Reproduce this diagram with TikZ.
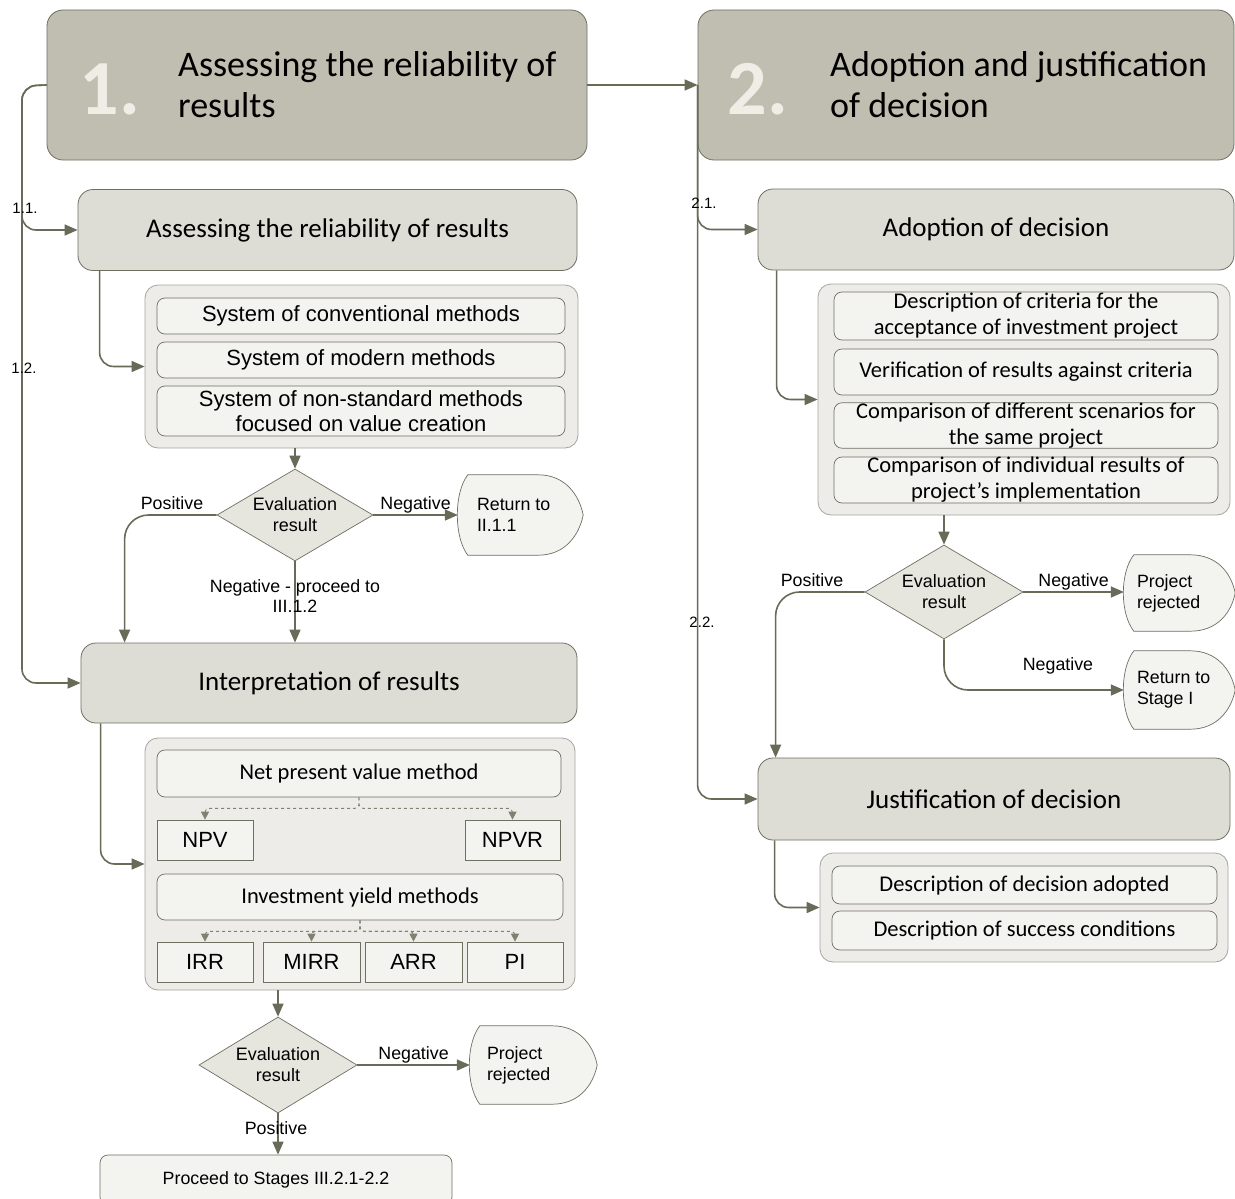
\documentclass[tikz,border=0pt]{standalone}
\usepackage{fontspec}
\setmainfont{Carlito}
\newfontfamily\arialf{Liberation Sans}
\usetikzlibrary{arrows.meta,shapes.geometric,calc,backgrounds}
\definecolor{lnc}{RGB}{104,107,88}
\definecolor{hdrfill}{RGB}{192,190,176}
\definecolor{subfill}{RGB}{222,221,213}
\definecolor{contfill}{RGB}{237,236,232}
\definecolor{boxfill}{RGB}{243,243,240}
\definecolor{bordc}{RGB}{110,112,98}
\definecolor{contbord}{RGB}{165,165,155}
\definecolor{numc}{RGB}{238,238,230}
\definecolor{diafill}{RGB}{230,229,222}
\newcommand\termshape[1]{%
  \draw[draw=bordc, fill=boxfill, line width=0.7pt]
    ($(#1.north west)+(10,0)$) -- ($(#1.north east)+(-45,0)$)
    .. controls ($(#1.north east)+(-18,0)$) and ($(#1.east)+(-4,-20)$) .. (#1.east)
    .. controls ($(#1.east)+(-4,20)$) and ($(#1.south east)+(-18,0)$) .. ($(#1.south east)+(-45,0)$)
    -- ($(#1.south west)+(10,0)$)
    .. controls ($(#1.south west)+(-4,-18)$) and ($(#1.north west)+(-4,18)$) .. ($(#1.north west)+(10,0)$) -- cycle;}
\begin{document}
\begin{tikzpicture}[x=1pt,y=-1pt,
 hdr/.style={draw=bordc, fill=hdrfill, rounded corners=16pt, line width=0.8pt, inner sep=0pt},
 sub/.style={draw=bordc, fill=subfill, rounded corners=15pt, line width=0.8pt, inner sep=0pt, font=\fontsize{27}{31}\selectfont},
 cont/.style={draw=contbord, fill=contfill, rounded corners=13pt, line width=0.8pt, inner sep=0pt},
 ibox/.style={draw=bordc, fill=boxfill, rounded corners=8pt, line width=0.7pt, inner sep=0pt, align=center},
 cal/.style={font=\fontsize{22.5}{26}\selectfont},
 ari/.style={font=\arialf\fontsize{22}{25}\selectfont},
 sbox/.style={draw=bordc, fill=boxfill, line width=0.7pt, inner sep=0pt, font=\arialf\fontsize{22}{26}\selectfont},
 dia/.style={diamond, shape aspect=1.68, draw=bordc, fill=diafill, line width=0.7pt, inner sep=0pt, align=center, font=\arialf\fontsize{18}{21}\selectfont},
 conn/.style={draw=lnc, line width=1.6pt, rounded corners=14pt, -{Triangle[length=13pt,width=11pt]}},
 dconn/.style={draw=lnc!85, line width=0.8pt, dashed, rounded corners=4pt, -{Triangle[length=8pt,width=8pt]}},
 lbl/.style={font=\arialf\fontsize{17.8}{21}\selectfont, inner sep=1pt, align=center},
 numl/.style={font=\arialf\fontsize{15}{17}\selectfont, inner sep=0pt},
 term/.style={inner sep=0pt, draw=none}
]
\useasboundingbox (0,0) rectangle (1235,1199);

% ---------- headers ----------
\node[hdr, minimum width=540pt, minimum height=150pt] (h1) at (317,85) {};
\node[font=\fontsize{78}{78}\selectfont\bfseries, text=numc, inner sep=0pt] (num1) at (110,89) {1.};
\node[font=\fontsize{36}{41}\selectfont, align=left, anchor=west, inner sep=0pt] (ttl1) at (178,85) {Assessing the reliability of\\results};

\node[hdr, minimum width=536pt, minimum height=150pt] (h2) at (966,85) {};
\node[font=\fontsize{78}{78}\selectfont\bfseries, text=numc, inner sep=0pt] (num2) at (758,89) {2.};
\node[font=\fontsize{36}{41}\selectfont, align=left, anchor=west, inner sep=0pt] (ttl2) at (830,85) {Adoption and justification\\of decision};

% ---------- left column ----------
\node[sub, minimum width=499pt, minimum height=81pt] (b11) at (327.5,230) {Assessing the reliability of results};

\node[cont, minimum width=433pt, minimum height=163pt] (ca) at (361.5,366.5) {};
\node[ibox, ari, minimum width=408pt, minimum height=36pt] (a1) at (361,316) {System of conventional methods};
\node[ibox, ari, minimum width=408pt, minimum height=36pt] (a2) at (361,360) {System of modern methods};
\node[ibox, ari, minimum width=408pt, minimum height=50pt] (a3) at (361,411) {System of non-standard methods\\focused on value creation};

\node[dia, minimum width=156pt, minimum height=92pt] (d1) at (295,515) {Evaluation\\result};
\node[term, minimum width=125pt, minimum height=80pt] (r1) at (520.5,515) {};
\node[lbl, align=left, anchor=west] (r1t) at ($(r1.west)+(18,0)$) {Return to\\II.1.1};

\node[sub, minimum width=496pt, minimum height=80pt] (ip) at (329,683) {Interpretation of results};

\node[cont, minimum width=430pt, minimum height=252pt] (cb) at (360,864) {};
\node[ibox, cal, minimum width=404pt, minimum height=47pt] (npvm) at (359,773.5) {Net present value method};
\node[sbox, minimum width=96pt, minimum height=40pt] (npv) at (205,840) {NPV};
\node[sbox, minimum width=95pt, minimum height=40pt] (npvr) at (512.5,840) {NPVR};
\node[ibox, cal, minimum width=406pt, minimum height=46pt] (iym) at (360,897) {Investment yield methods};
\node[sbox, minimum width=96pt, minimum height=40pt] (irr) at (205,962) {IRR};
\node[sbox, minimum width=97pt, minimum height=40pt] (mirr) at (311.5,962) {MIRR};
\node[sbox, minimum width=97pt, minimum height=40pt] (arr) at (413.5,962) {ARR};
\node[sbox, minimum width=96pt, minimum height=40pt] (pi) at (515,962) {PI};

\node[dia, minimum width=158pt, minimum height=96pt] (d3) at (278,1065) {Evaluation\\result};
\node[term, minimum width=127pt, minimum height=78pt] (rj1) at (533.5,1065) {};
\node[lbl, align=left, anchor=west] (rj1t) at ($(rj1.west)+(16,0)$) {Project\\rejected};

\node[ibox, minimum width=352pt, minimum height=50pt, font=\arialf\fontsize{17.8}{20}\selectfont] (pr) at (276,1180) {Proceed to Stages III.2.1-2.2};

% ---------- right column ----------
\node[sub, minimum width=476pt, minimum height=81pt] (b21) at (996,229.5) {Adoption of decision};

\node[cont, minimum width=412pt, minimum height=231pt] (cc) at (1024,399.5) {};
\node[ibox, minimum width=384pt, minimum height=48pt, font=\fontsize{22.5}{26}\selectfont] (c1) at (1026,316) {Description of criteria for the\\acceptance of investment project};
\node[ibox, cal, minimum width=384pt, minimum height=46pt] (c2) at (1026,372) {Verification of results against criteria};
\node[ibox, minimum width=384pt, minimum height=45pt, font=\fontsize{22.5}{26}\selectfont] (c3) at (1026,425.5) {Comparison of different scenarios for\\the same project};
\node[ibox, minimum width=384pt, minimum height=46pt, font=\fontsize{22.5}{26}\selectfont] (c4) at (1026,480) {Comparison of individual results of\\project’s implementation};

\node[dia, minimum width=158pt, minimum height=94pt] (d2) at (944,592) {Evaluation\\result};
\node[term, minimum width=111pt, minimum height=76pt] (rj2) at (1179.5,593) {};
\node[lbl, align=left, anchor=west] (rj2t) at ($(rj2.west)+(12,0)$) {Project\\rejected};
\node[term, minimum width=111pt, minimum height=78pt] (r2) at (1179.5,690) {};
\node[lbl, align=left, anchor=west] (r2t) at ($(r2.west)+(12,0)$) {Return to\\Stage I};

\node[sub, minimum width=472pt, minimum height=82pt] (js) at (994,799) {Justification of decision};

\node[cont, minimum width=408pt, minimum height=109pt] (cd) at (1024,907.5) {};
\node[ibox, cal, minimum width=385pt, minimum height=38pt] (e1) at (1024.5,885) {Description of decision adopted};
\node[ibox, cal, minimum width=385pt, minimum height=39pt] (e2) at (1024.5,930.5) {Description of success conditions};

% white page and terminal shapes
\begin{pgfonlayer}{background}
\fill[white] (0,0) rectangle (1235,1199);
\termshape{r1}
\termshape{rj1}
\termshape{rj2}
\termshape{r2}
\end{pgfonlayer}

% ---------- connectors ----------
\draw[conn] (h1.east) -- (h2.west);
\coordinate (lb) at (22,86);
\draw[conn] (h1.west) -- (lb) |- (b11.west);
\draw[conn] (h1.west) -- (lb) |- (ip.west);
\node[numl] (n11) at (25,208) {1.1.};
\node[numl] (n12) at (24,368) {1.2.};

\draw[conn] ($(b11.south west)+(22,0)$) |- (ca.west);
\draw[conn] (d1.north |- ca.south) -- (d1.north);
\draw[conn] (d1.east) -- (d1.east -| r1.west) node[lbl, midway, above] (ln1) {Negative};
\draw[conn, rounded corners=24pt] (d1.west) -| ($(ip.north west)+(44,0)$);
\node[lbl] (lp1) at (172,503) {Positive};
\draw[conn] (d1.south) -- (d1.south |- ip.north);
\node[lbl, font=\arialf\fontsize{17.8}{20}\selectfont] (lnp) at (295,596) {Negative - proceed to\\III.1.2};

\draw[conn] ($(ip.south west)+(20,0)$) |- (cb.west);
\draw[dconn] (npvm.south) -- ++(0,11) -| (npv.north);
\draw[dconn] (npvm.south) -- ++(0,11) -| (npvr.north);
\draw[dconn] (iym.south) -- ++(0,11) -| (irr.north);
\draw[dconn] (iym.south) -- ++(0,11) -| (mirr.north);
\draw[dconn] (iym.south) -- ++(0,11) -| (arr.north);
\draw[dconn] (iym.south) -- ++(0,11) -| (pi.north);

\draw[conn] (d3.north |- cb.south) -- (d3.north);
\draw[conn] (d3.east) -- (d3.east -| rj1.west) node[lbl, midway, above] (ln3) {Negative};
\draw[conn] (d3.south) -- (d3.south |- pr.north);
\node[lbl] (lp3) at (276,1128) {Positive};

\draw[conn] (h2.west) |- (b21.west);
\draw[conn] (h2.west) |- (js.west);
\node[numl] (n21) at (704,203) {2.1.};
\node[numl] (n22) at (702,622) {2.2.};

\draw[conn] ($(b21.south west)+(19,0)$) |- (cc.west);
\draw[conn] (d2.north |- cc.south) -- (d2.north);
\draw[conn] (d2.east) -- (d2.east -| rj2.west) node[lbl, midway, above] (ln2) {Negative};
\draw[conn, rounded corners=24pt] (d2.south) |- (r2.west);
\node[lbl] (ln2b) at (1058,666) {Negative};
\draw[conn, rounded corners=24pt] (d2.west) -| ($(js.north west)+(18,0)$);
\node[lbl] (lp2) at (812,580) {Positive};
\draw[conn] ($(js.south west)+(17,0)$) |- (cd.west);
\end{tikzpicture}
\end{document}
